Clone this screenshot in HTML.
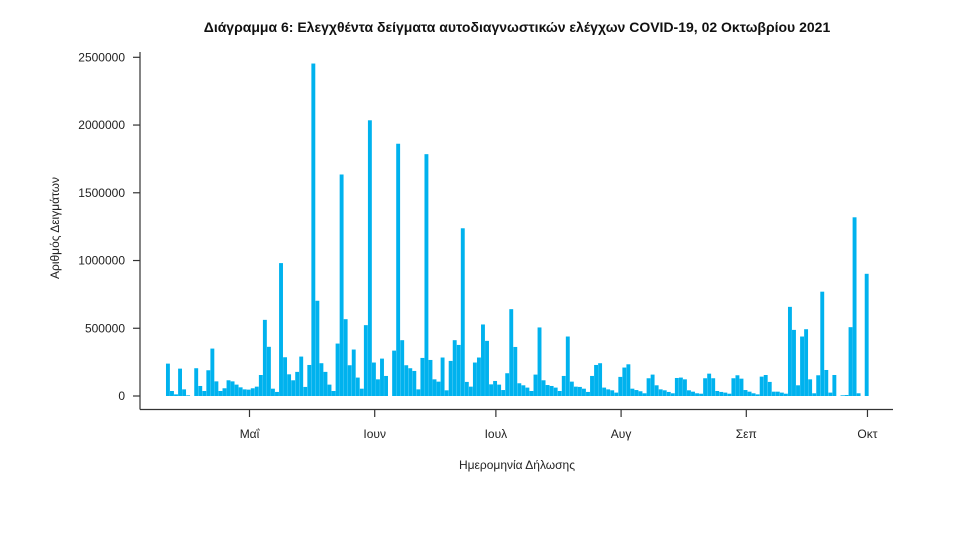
<!DOCTYPE html>
<html><head><meta charset="utf-8"><style>
html,body{margin:0;padding:0;background:#fff;}
svg{display:block;font-family:"Liberation Sans","DejaVu Sans",sans-serif;}
</style></head><body>
<svg id="chart" width="957" height="538" viewBox="0 0 957 538" xmlns="http://www.w3.org/2000/svg">
<text x="517" y="32" text-anchor="middle" font-size="14" font-weight="bold" fill="#111">Διάγραμμα 6: Ελεγχθέντα δείγματα αυτοδιαγνωστικών ελέγχων COVID-19, 02 Οκτωβρίου 2021</text>
<g id="bars"></g>
<g id="axes"></g>
<text transform="translate(59,228) rotate(-90)" text-anchor="middle" font-size="12" fill="#222">Αριθμός Δειγμάτων</text>
<text x="517" y="469" text-anchor="middle" font-size="12" fill="#222">Ημερομηνία Δήλωσης</text>
</svg>
<script>
// daily values in thousands, starting 10 April 2021
const values = [239,37,12,202,49,5,0,205,74,37,190,350,108,37,57,116,108,84,64,49,47,57,69,155,562,363,54,30,981,286,160,116,178,291,67,229,2454,703,242,178,84,37,
387,1635,567,227,343,136,54,523,2035,247,123,276,148,0,335,1862,412,227,205,185,49,281,1785,266,123,106,284,42,259,412,377,1238,104,69,247,284,528,407,86,111,84,44,168,
641,362,94,79,62,37,158,506,116,81,74,62,37,148,439,106,69,67,54,30,148,229,242,62,49,42,25,141,210,234,54,44,35,20,131,158,79,49,42,30,20,133,136,123,42,32,20,
17,131,165,131,37,30,25,17,131,153,128,44,32,20,12,143,155,104,32,32,25,17,658,488,79,439,493,123,20,153,770,192,25,155,0,5,7,508,1319,20,0,902];
const yTicks = [0,500000,1000000,1500000,2000000,2500000];
const monthLabels = ["Μαΐ","Ιουν","Ιουλ","Αυγ","Σεπ","Οκτ"];
const monthDays = [21,52,82,113,144,174];

const NS="http://www.w3.org/2000/svg";
const y0=396, y1=57.3;
function yScale(v){return y0-(v/2500000)*(y0-y1);}
function xScale(i){return 249.5+(i-21)*4.039;}
const bars=document.getElementById('bars');
values.forEach((v,i)=>{
  if(v<=0) return;
  const r=document.createElementNS(NS,'rect');
  
  
  const yy=yScale(v*1000);
  r.setAttribute('x',xScale(i)+1.3);
  r.setAttribute('width',3.9);
  r.setAttribute('y',yy);
  r.setAttribute('height',y0-yy);
  r.setAttribute('fill','#00b2ee');
  bars.appendChild(r);
});
const axes=document.getElementById('axes');
function line(x1,y1_,x2,y2,name){
  const l=document.createElementNS(NS,'line');
  
  
  l.setAttribute('x1',x1);l.setAttribute('y1',y1_);l.setAttribute('x2',x2);l.setAttribute('y2',y2);
  l.setAttribute('stroke','#333');l.setAttribute('stroke-width','1.2');
  axes.appendChild(l);
}
function text(x,y,s,anchor,name){
  const t=document.createElementNS(NS,'text');
  
  
  t.setAttribute('x',x);t.setAttribute('y',y);t.setAttribute('text-anchor',anchor);
  t.setAttribute('font-size','12');t.setAttribute('fill','#222');
  t.textContent=s;axes.appendChild(t);
}
line(140,52,140,409.5,'y-axis-line');
line(140,409.5,893,409.5,'x-axis-line');
yTicks.forEach(v=>{
  const y=yScale(v);
  line(133,y,140,y,'y-tick');
  text(125,y+4,String(v),'end','y-tick-label');
});
monthDays.forEach((d,k)=>{
  const x=xScale(d);
  line(x,409.5,x,417,'x-tick');
  text(x,438,monthLabels[k],'middle','x-tick-label');
});
</script>
</body></html>
